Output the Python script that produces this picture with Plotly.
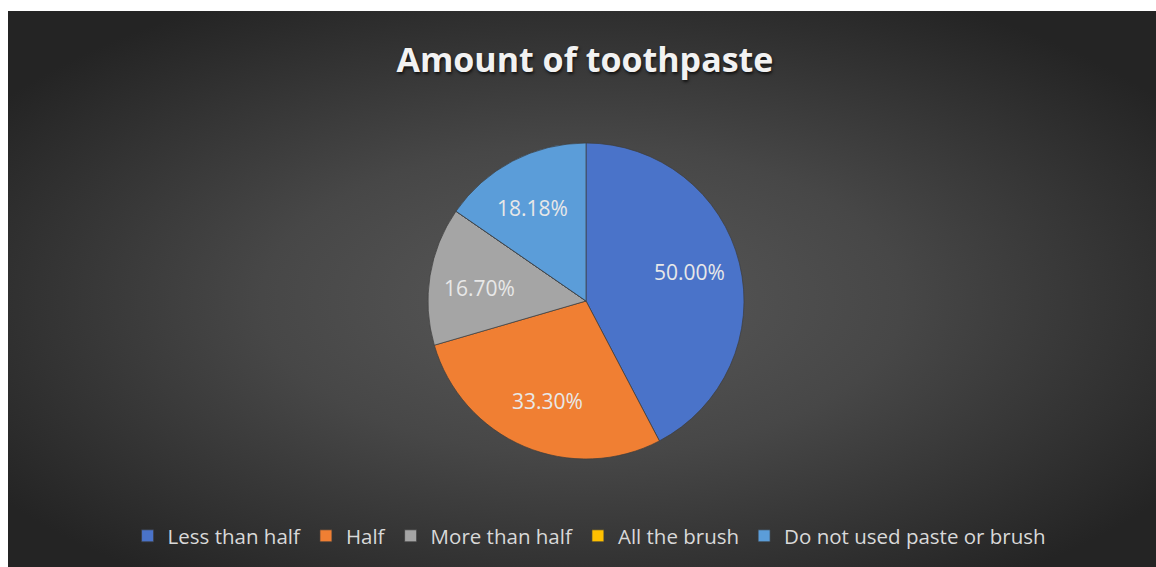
import base64
import math
import plotly.graph_objects as go

# Survey data
categories = ["Less than half", "Half", "More than half", "All the brush", "Do not used paste or brush"]
values = [50.00, 33.30, 16.70, 0.0, 18.18]
colors = ["#4a73c9", "#f07f33", "#a5a5a5", "#ffc000", "#5b9dd9"]

W, H = 1156, 567

# dark radial backdrop drawn as an SVG image behind the chart
svg = """<svg xmlns='http://www.w3.org/2000/svg' width='1148' height='556' viewBox='0 0 1148 556' preserveAspectRatio='none'>
<defs><radialGradient id='g' cx='0.5' cy='0.52' r='0.62' gradientUnits='objectBoundingBox'>
<stop offset='0' stop-color='#595959'/>
<stop offset='0.45' stop-color='#474747'/>
<stop offset='1' stop-color='#242424'/>
</radialGradient></defs>
<rect width='1148' height='556' fill='url(#g)'/></svg>"""
bg_uri = "data:image/svg+xml;base64," + base64.b64encode(svg.encode()).decode()

cx, cy, r = 586, 301, 158
domain_x = [(cx - r) / W, (cx + r) / W]
domain_y = [(H - cy - r) / H, (H - cy + r) / H]

fig = go.Figure(go.Pie(
    labels=categories,
    values=values,
    textinfo="none",
    sort=False,
    direction="clockwise",
    rotation=0,
    marker=dict(colors=colors, line=dict(color="#3c3c3c", width=0.7)),
    domain=dict(x=domain_x, y=domain_y),
    showlegend=True,
))

# value labels placed along each slice's bisector
total = sum(values)
start = 0.0
annotations = []
for v in values:
    sweep = 360.0 * v / total
    if v > 0:
        mid = math.radians(start + sweep / 2 - 2)
        px = (cx + 0.68 * r * math.sin(mid)) / W
        py = (H - (cy - 0.68 * r * math.cos(mid))) / H
        annotations.append(dict(
            text=f"{v:.2f}%", x=px, y=py, xref="paper", yref="paper",
            showarrow=False, xanchor="center", yanchor="middle",
            font=dict(family="Open Sans", size=21, color="#e8e8e8"),
        ))
    start += sweep

fig.update_layout(
    width=W, height=H,
    margin=dict(l=0, r=0, t=0, b=0),
    paper_bgcolor="white",
    images=[dict(source=bg_uri, xref="paper", yref="paper", x=8 / W, y=1 - 11 / H,
                 sizex=1 - 8 / W, sizey=1 - 11 / H, sizing="stretch", layer="below",
                 xanchor="left", yanchor="top")],
    title=dict(text="<b>Amount of toothpaste</b>", x=0.506, xanchor="center",
               y=1 - 60 / H, yanchor="middle",
               font=dict(family="Open Sans", size=34, color="#f2f2f2",
                         shadow="1px 2px 3px rgba(0,0,0,0.7)")),
    legend=dict(orientation="h", x=0.51, xanchor="center", y=1 - 536 / H, yanchor="middle",
                font=dict(family="Open Sans", size=20.5, color="#d9d9d9"),
                bgcolor="rgba(0,0,0,0)", traceorder="normal"),
    annotations=annotations,
)

fig.write_html("out.html")
